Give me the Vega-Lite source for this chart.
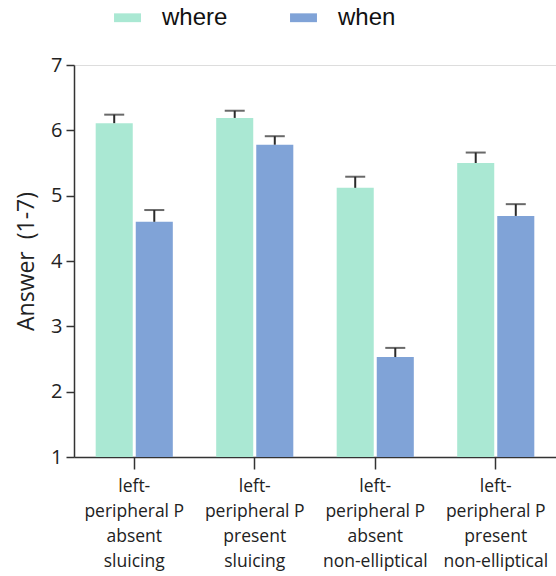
{
  "$schema": "https://vega.github.io/schema/vega-lite/v6.json",
  "autosize": "none",
  "padding": {"left": 74, "top": 65, "right": 0, "bottom": 119},
  "width": 482,
  "height": 392,
  "background": "white",
  "data": {"values": [
    {"cond": "left-|peripheral P|absent|sluicing", "q": "where", "mean": 6.11, "err": 6.24},
    {"cond": "left-|peripheral P|absent|sluicing", "q": "when", "mean": 4.6, "err": 4.78},
    {"cond": "left-|peripheral P|present|sluicing", "q": "where", "mean": 6.19, "err": 6.3},
    {"cond": "left-|peripheral P|present|sluicing", "q": "when", "mean": 5.78, "err": 5.91},
    {"cond": "left-|peripheral P|absent|non-elliptical", "q": "where", "mean": 5.12, "err": 5.29},
    {"cond": "left-|peripheral P|absent|non-elliptical", "q": "when", "mean": 2.53, "err": 2.67},
    {"cond": "left-|peripheral P|present|non-elliptical", "q": "where", "mean": 5.5, "err": 5.66},
    {"cond": "left-|peripheral P|present|non-elliptical", "q": "when", "mean": 4.69, "err": 4.87}
  ]},
  "encoding": {
    "x": {
      "field": "cond", "type": "nominal", "sort": null,
      "scale": {"paddingInner": 0.36, "paddingOuter": 0.18},
      "axis": {
        "title": null, "labelAngle": 0, "labelExpr": "split(datum.label, '|')",
        "labelFont": "Open Sans", "labelFontSize": 17.5, "labelColor": "#222",
        "labelLineHeight": 25, "labelPadding": 8, "labelBaseline": "top",
        "tickSize": 12, "tickColor": "#333", "tickWidth": 1.5,
        "domainColor": "#333", "domainWidth": 1.5
      }
    },
    "xOffset": {"field": "q", "type": "nominal", "sort": ["where", "when"],
      "scale": {"paddingInner": 0.075, "paddingOuter": 0}}
  },
  "layer": [
    {
      "mark": {"type": "bar"},
      "encoding": {
        "y": {
          "field": "mean", "type": "quantitative",
          "scale": {"domain": [1, 7], "nice": false, "zero": false},
          "axis": {
            "title": "Answer\u00a0 (1-7)", "titleFont": "Open Sans", "titleFontSize": 23,
            "titleFontWeight": "normal", "titleColor": "#222", "titlePadding": 12,
            "values": [1, 2, 3, 4, 5, 6, 7], "format": "d", "grid": false,
            "labelFont": "Open Sans", "labelFontSize": 20, "labelColor": "#222",
            "labelPadding": 4, "tickSize": 8, "tickColor": "#333", "tickWidth": 1.5,
            "domainColor": "#333", "domainWidth": 1.5
          }
        },
        "y2": {"datum": 1},
        "color": {
          "field": "q", "type": "nominal", "sort": ["where", "when"],
          "scale": {"domain": ["where", "when"], "range": ["#aae8d3", "#80a3d7"]},
          "legend": {
            "title": null, "orient": "none", "direction": "horizontal",
            "legendX": 41, "legendY": -60,
            "symbolType": "M-1.1,-0.36h2.2v0.72h-2.2z", "symbolSize": 600,
            "symbolStrokeWidth": 0, "labelFont": "Liberation Sans", "labelFontSize": 24,
            "labelColor": "#111", "labelOffset": 22, "columnPadding": 62
          }
        }
      }
    },
    {
      "mark": {"type": "rule", "color": "#2a2a2a", "strokeWidth": 2},
      "encoding": {
        "y": {"field": "mean", "type": "quantitative"},
        "y2": {"field": "err"}
      }
    },
    {
      "mark": {"type": "tick", "color": "#2a2a2a", "thickness": 2, "size": 20},
      "encoding": {
        "y": {"field": "err", "type": "quantitative"}
      }
    }
  ]
}
